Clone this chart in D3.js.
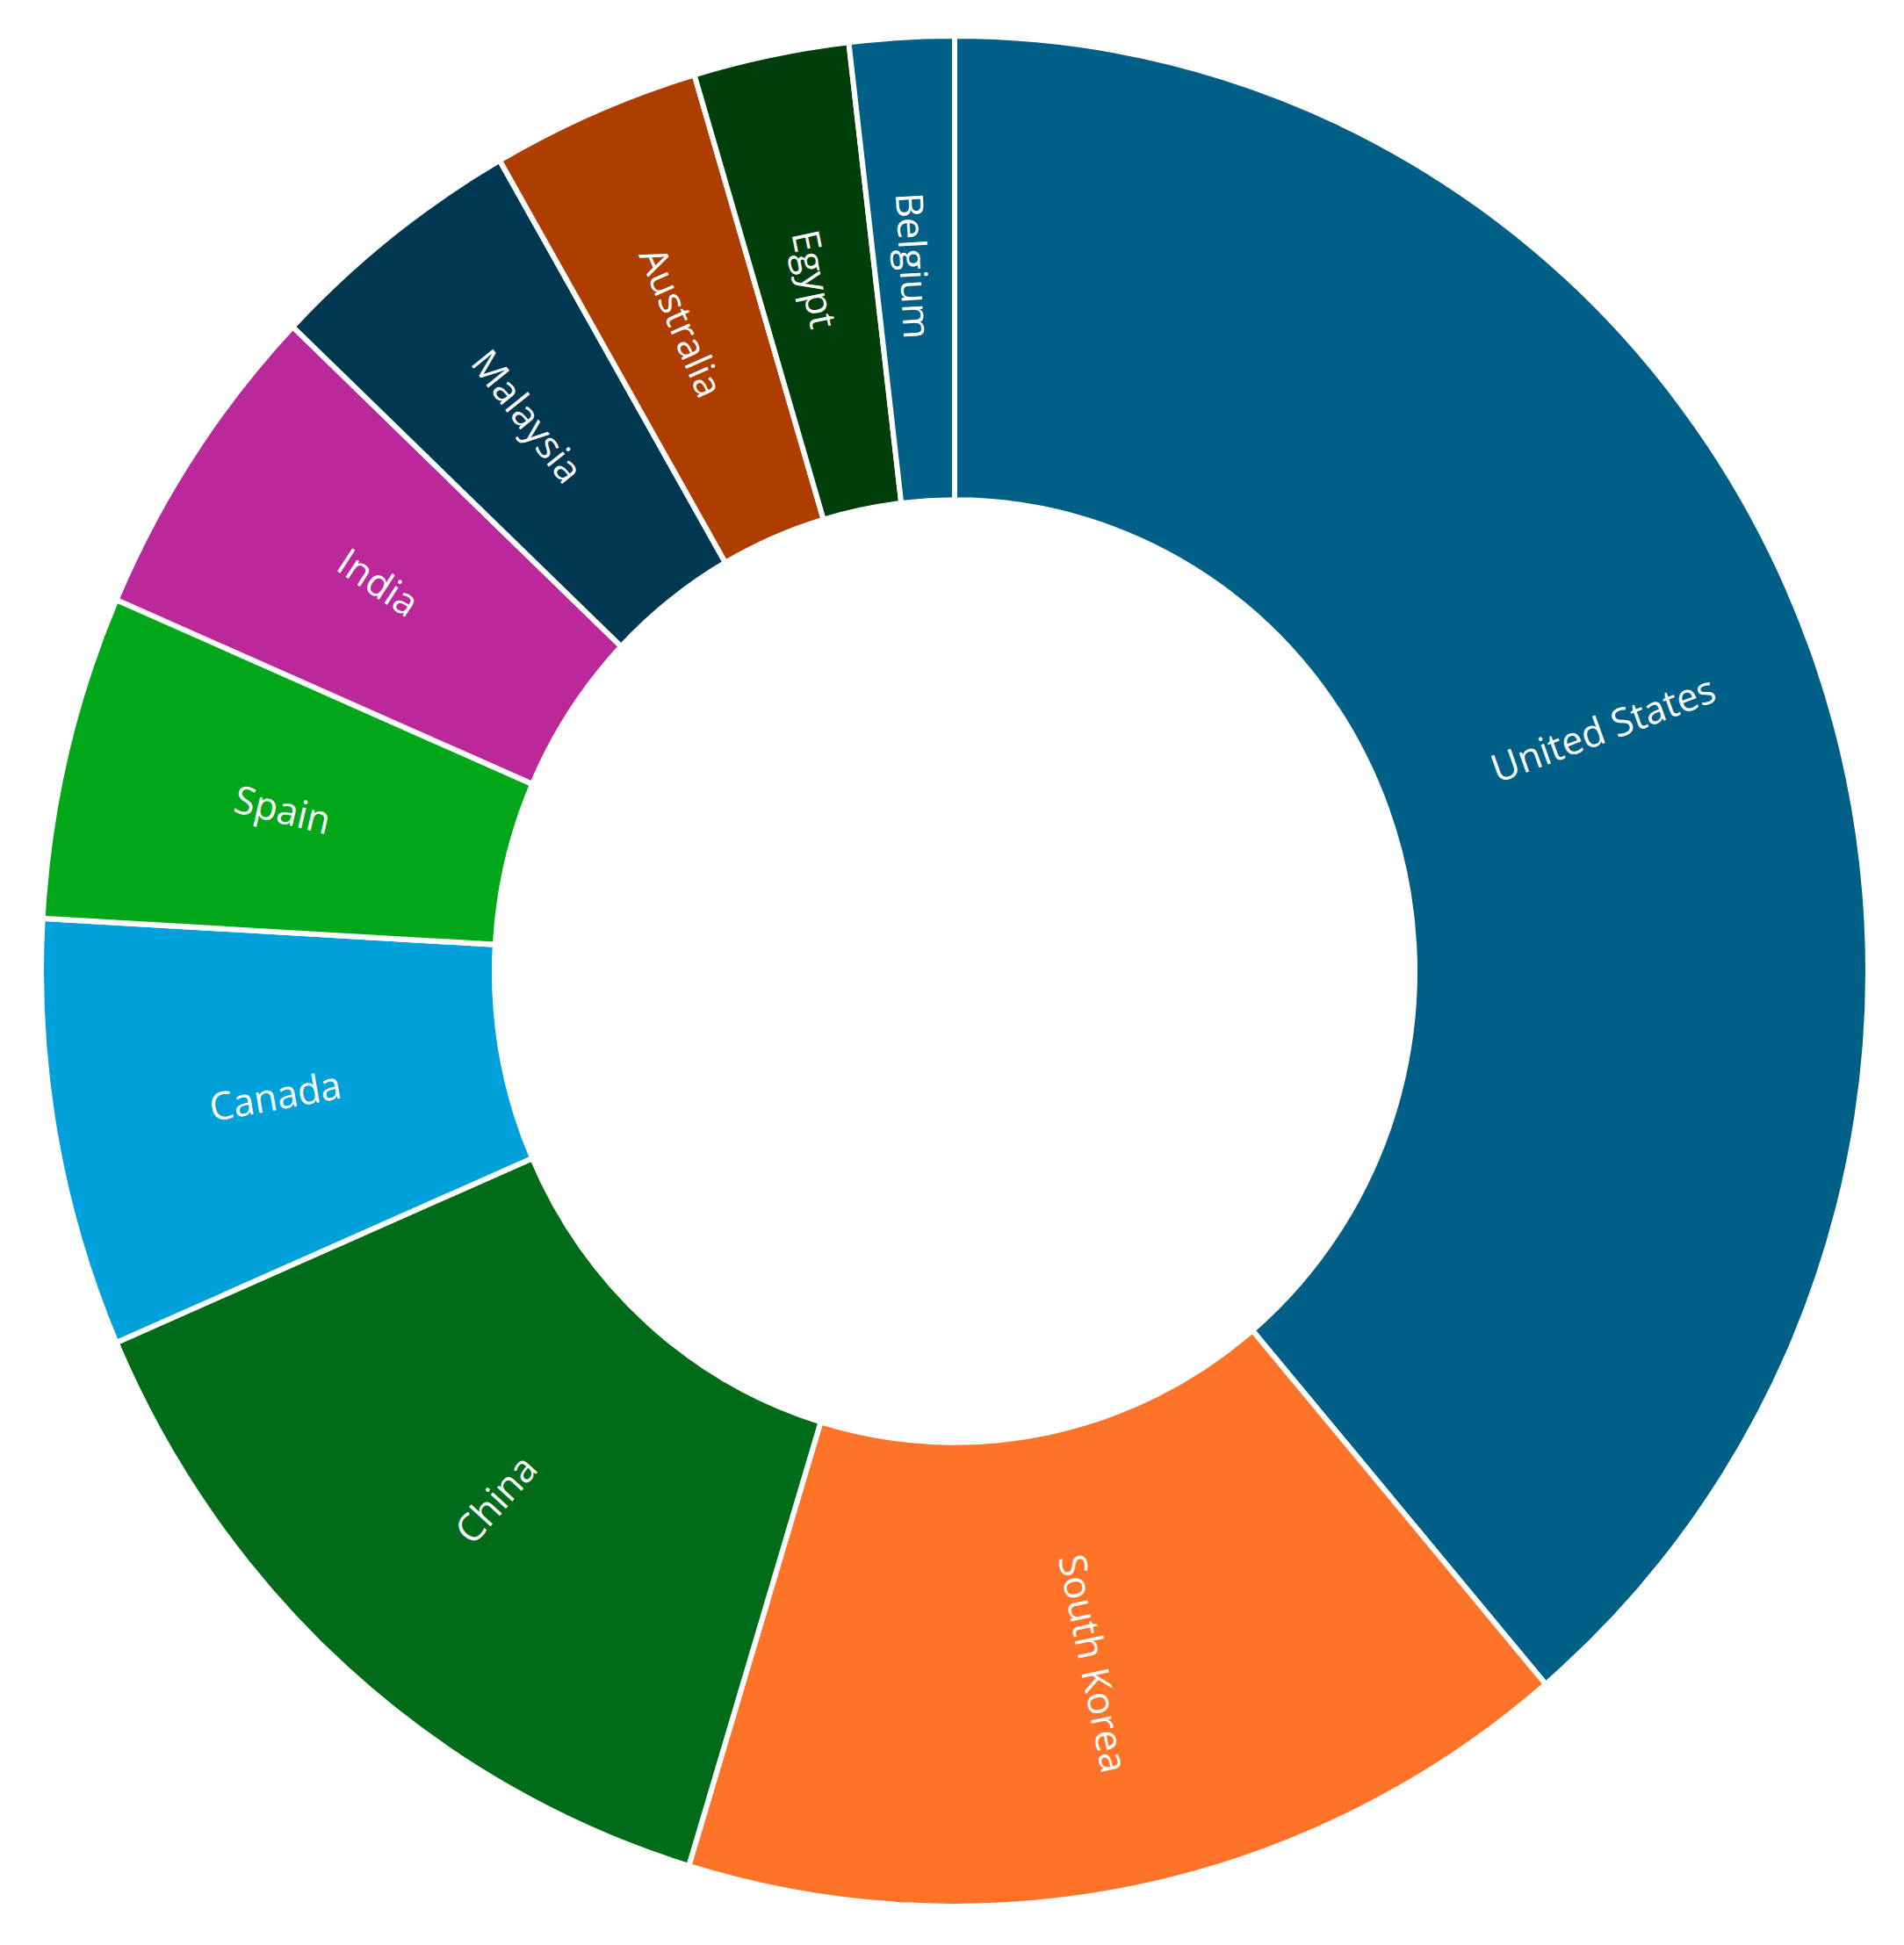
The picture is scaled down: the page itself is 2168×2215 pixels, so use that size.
<!DOCTYPE html>
<html>
<head>
<meta charset="utf-8">
<script src="https://cdn.jsdelivr.net/npm/d3@7"></script>
<style>
  html, body { margin: 0; padding: 0; background: #ffffff; }
  svg { display: block; }
</style>
</head>
<body>
<svg id="chart" width="2168" height="2215"></svg>
<script>
const countries = ["United States", "South Korea", "China", "Canada", "Spain", "India", "Malaysia", "Australia", "Egypt", "Belgium"];
const shares = [38.8, 15.9, 13.8, 7.4, 5.6, 5.6, 4.6, 3.7, 2.75, 1.85];
const colors = ["#005f87", "#ff7329", "#006b19", "#00a1da", "#00a819", "#bb2899", "#003852", "#ad3e00", "#003f0b", "#005f87"];

const data = countries.map((c, i) => ({ country: c, value: shares[i] }));

const svg = d3.select("#chart");
const cx = 1087, cy = 1106;
const outerR = 1040, innerR = 524;

const g = svg.append("g")
  .attr("transform", `translate(${cx},${cy}) scale(1,1.024)`);

const color = d3.scaleOrdinal().domain(countries).range(colors);

const pie = d3.pie().sort(null).value(d => d.value);
const arc = d3.arc().innerRadius(innerR).outerRadius(outerR);
const labelArc = d3.arc().innerRadius((innerR + outerR) / 2 + 4).outerRadius((innerR + outerR) / 2 + 4);

const arcs = pie(data);

g.selectAll("path.slice")
  .data(arcs)
  .join("path")
  .attr("class", "slice")
  .attr("d", arc)
  .attr("fill", d => color(d.data.country))
  .attr("stroke", "#ffffff")
  .attr("stroke-width", 6)
  .attr("stroke-linejoin", "miter");

g.selectAll("text.label")
  .data(arcs)
  .join("text")
  .attr("class", "label")
  .attr("transform", d => {
    const [x, y] = labelArc.centroid(d);
    const mid = (d.startAngle + d.endAngle) / 2 * 180 / Math.PI;
    let rot = mid - 90;
    if (mid > 180) rot += 180;
    return `translate(${x},${y}) rotate(${rot})`;
  })
  .attr("text-anchor", "middle")
  .attr("dominant-baseline", "central")
  .attr("fill", "#ffffff")
  .style("font-family", "'Open Sans', 'Noto Sans', sans-serif")
  .style("font-size", "43px")
  .text(d => d.data.country);
</script>
</body>
</html>
